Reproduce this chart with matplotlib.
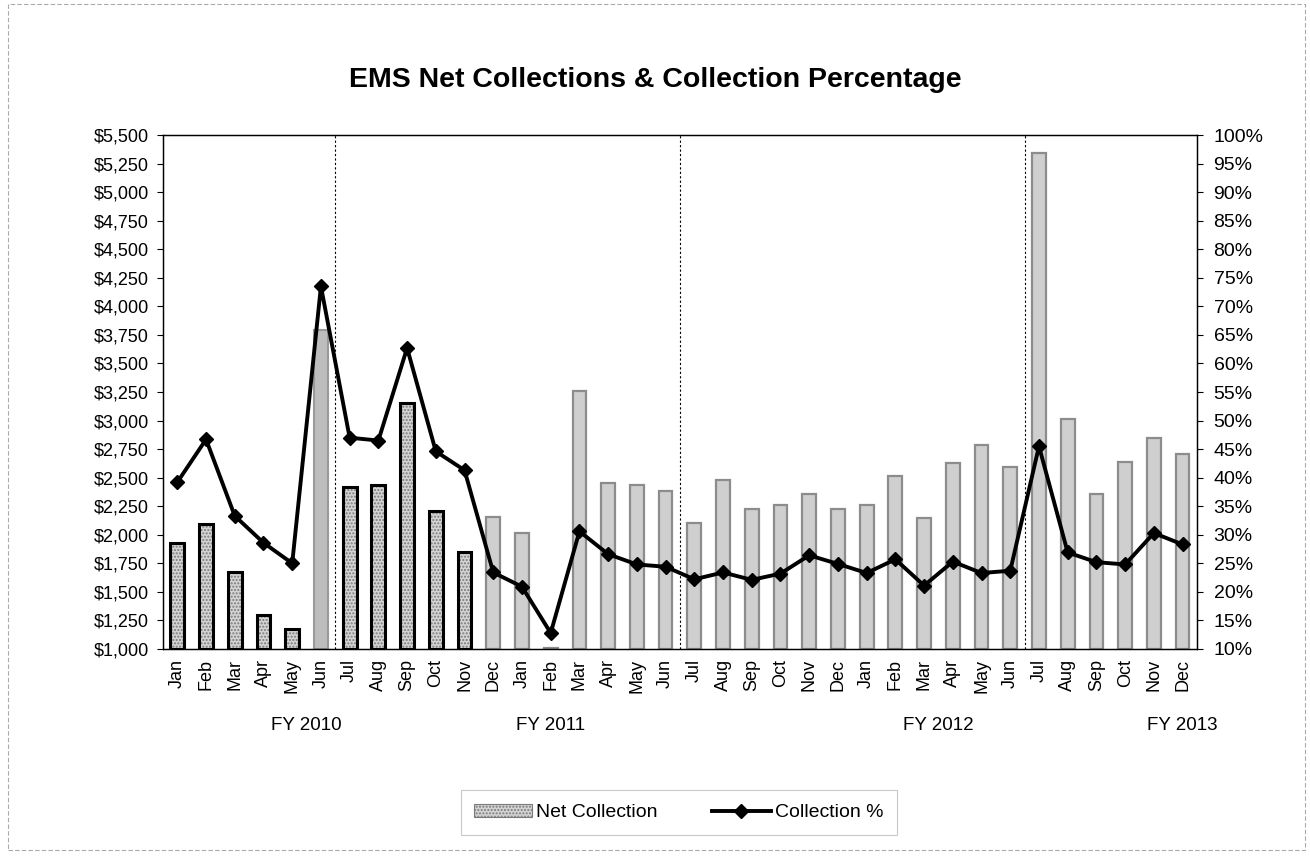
import matplotlib
matplotlib.use('Agg')
import matplotlib.pyplot as plt
import numpy as np
from matplotlib.patches import Patch, Rectangle
from matplotlib.lines import Line2D
from matplotlib.ticker import FuncFormatter, MultipleLocator

plt.rcParams['font.family'] = ['Liberation Sans', 'DejaVu Sans']

months = ['Jan', 'Feb', 'Mar', 'Apr', 'May', 'Jun', 'Jul', 'Aug', 'Sep', 'Oct', 'Nov', 'Dec'] * 3

# net collection ($), Jan 2010 .. Dec 2012
net_2010 = [1924, 2097, 1676, 1297, 1179, 3794, 2418, 2439, 3151, 2204, 1853, 2158]
net_2011 = [2019, 1010, 3259, 2452, 2436, 2382, 2104, 2480, 2223, 2259, 2353, 2229]
net_2012 = [2262, 2516, 2148, 2631, 2788, 2592, 5343, 3010, 2361, 2633, 2845, 2709]

# collection percentage
pct_2010 = [39.2, 46.7, 33.3, 28.6, 25.0, 73.5, 47.0, 46.5, 62.7, 44.6, 41.3, 23.4]
pct_2011 = [20.9, 12.8, 30.6, 26.6, 24.8, 24.4, 22.2, 23.4, 22.1, 23.2, 26.4, 24.9]
pct_2012 = [23.3, 25.7, 21.1, 25.3, 23.3, 23.7, 45.5, 26.9, 25.2, 24.8, 30.3, 28.3]

fy_labels = ['FY 2010', 'FY 2011', 'FY 2012', 'FY 2013']
fy_pos = [4.5, 13.0, 26.5, 35.0]
fy_breaks = [5.5, 17.5, 29.5]

net = np.array(net_2010 + net_2011 + net_2012)
pct = np.array(pct_2010 + pct_2011 + pct_2012)
x = np.arange(len(net))

# bars drawn with the black outline / stipple look
outlined = [0, 1, 2, 3, 4, 6, 7, 8, 9, 10]

fig = plt.figure(figsize=(13.1, 8.59), dpi=100)
ax = fig.add_axes([0.1244, 0.2445, 0.7893, 0.5983])
ax2 = ax.twinx()

base = 1000
w = 0.48
for i in x:
    h = net[i] - base
    if i in outlined:
        ax.bar(i, h, w, bottom=base, color='#d4d4d4', edgecolor='#7a7a7a',
               hatch='.....', linewidth=0, zorder=2)
        ax.bar(i, h, w, bottom=base, fill=False, edgecolor='black', linewidth=2.2, zorder=3)
    elif i == 5:
        ax.bar(i, h, w, bottom=base, color='#bdbdbd', edgecolor='#9a9a9a', linewidth=1.5, zorder=2)
    else:
        ax.bar(i, h, w, bottom=base, color='#cfcfcf', edgecolor='#8c8c8c', linewidth=1.6, zorder=2)

for b in fy_breaks:
    ax.axvline(b, color='black', linestyle=(0, (2, 2)), linewidth=0.8, zorder=1)

ax2.plot(x, pct, color='black', linewidth=2.8, marker='D', markersize=7, zorder=5)

ax.set_xlim(-0.5, len(net) - 0.5)
ax.set_ylim(1000, 5500)
ax2.set_ylim(10, 100)
ax.yaxis.set_major_locator(MultipleLocator(250))
ax.yaxis.set_major_formatter(FuncFormatter(lambda v, p: f'${v:,.0f}'))
ax2.yaxis.set_major_locator(MultipleLocator(5))
ax2.yaxis.set_major_formatter(FuncFormatter(lambda v, p: f'{v:.0f}%'))

ax.set_xticks(x)
ax.set_xticklabels(months, rotation=90, fontsize=13)
ax.tick_params(axis='x', length=0, pad=7)
ax.tick_params(axis='y', labelsize=13, length=4, width=0.8, pad=6)
ax2.tick_params(axis='y', labelsize=14, length=4, width=0.8, pad=8)

for sp in ax.spines.values():
    sp.set_linewidth(0.9)
for sp in ax2.spines.values():
    sp.set_linewidth(0.9)

for lab, pos in zip(fy_labels, fy_pos):
    ax.text(pos, -0.148, lab, transform=ax.get_xaxis_transform(),
            ha='center', va='center', fontsize=13.5)

fig.text(0.5, 0.907, 'EMS Net Collections & Collection Percentage',
         ha='center', va='center', fontsize=20.5, fontweight='bold')

h1 = Patch(facecolor='#d4d4d4', edgecolor='#7a7a7a', hatch='.....', linewidth=0.8)
h2 = Line2D([], [], color='black', linewidth=2.8, marker='D', markersize=7)
leg = fig.legend([h1, h2], ['Net Collection', 'Collection %'], loc='center',
                 bbox_to_anchor=(0.518, 0.054), ncol=2, fontsize=14, frameon=True,
                 fancybox=False, edgecolor='#bbbbbb', handlelength=3.0,
                 columnspacing=2.8, handletextpad=0.2, borderpad=0.7)
leg.get_frame().set_linewidth(0.8)

fig.patches.append(Rectangle((0.006, 0.01), 0.99, 0.985, transform=fig.transFigure,
                             fill=False, edgecolor='#aaaaaa', linewidth=0.8,
                             linestyle=(0, (4, 2))))

fig.savefig('out.png', dpi=100, facecolor='white')
